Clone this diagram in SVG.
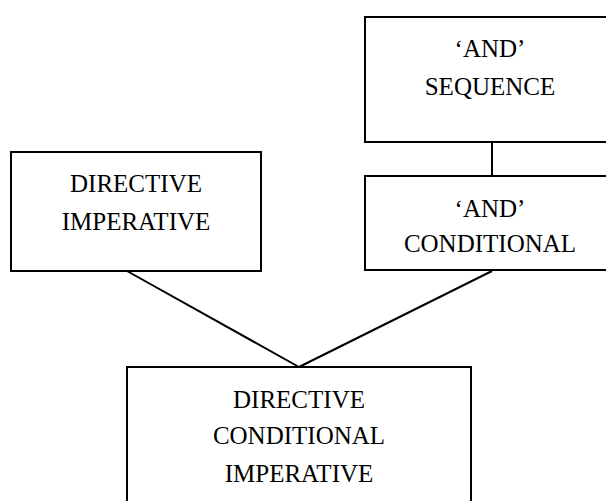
<svg xmlns="http://www.w3.org/2000/svg" width="606" height="501" viewBox="0 0 606 501">
<style>
.box{fill:#fff;stroke:#000;stroke-width:2}
.t{font-family:"Liberation Serif","Times New Roman",serif;font-size:25px;fill:#000;text-anchor:middle}
.c{stroke:#000;stroke-width:2;fill:none}
</style>
<rect width="606" height="501" fill="#fff"/>
<g id="connectors">
<line class="c" x1="492" y1="142" x2="492" y2="176"/>
<line class="c" x1="127" y1="271" x2="299" y2="367"/>
<line class="c" x1="492" y1="271" x2="299" y2="367"/>
</g>
<g id="and-sequence">
<rect class="box" x="365" y="17" width="260" height="125"/>
<text class="t" x="490" y="57">‘AND’</text>
<text class="t" x="490" y="95">SEQUENCE</text>
</g>
<g id="and-conditional">
<rect class="box" x="365" y="176" width="260" height="94"/>
<text class="t" x="490" y="217">‘AND’</text>
<text class="t" x="490" y="252">CONDITIONAL</text>
</g>
<g id="directive-imperative">
<rect class="box" x="11" y="152" width="250" height="119"/>
<text class="t" x="136" y="192">DIRECTIVE</text>
<text class="t" x="136" y="230">IMPERATIVE</text>
</g>
<g id="directive-conditional-imperative">
<rect class="box" x="127" y="367" width="344" height="150"/>
<text class="t" x="299" y="408">DIRECTIVE</text>
<text class="t" x="299" y="444">CONDITIONAL</text>
<text class="t" x="299" y="482">IMPERATIVE</text>
</g>
</svg>
